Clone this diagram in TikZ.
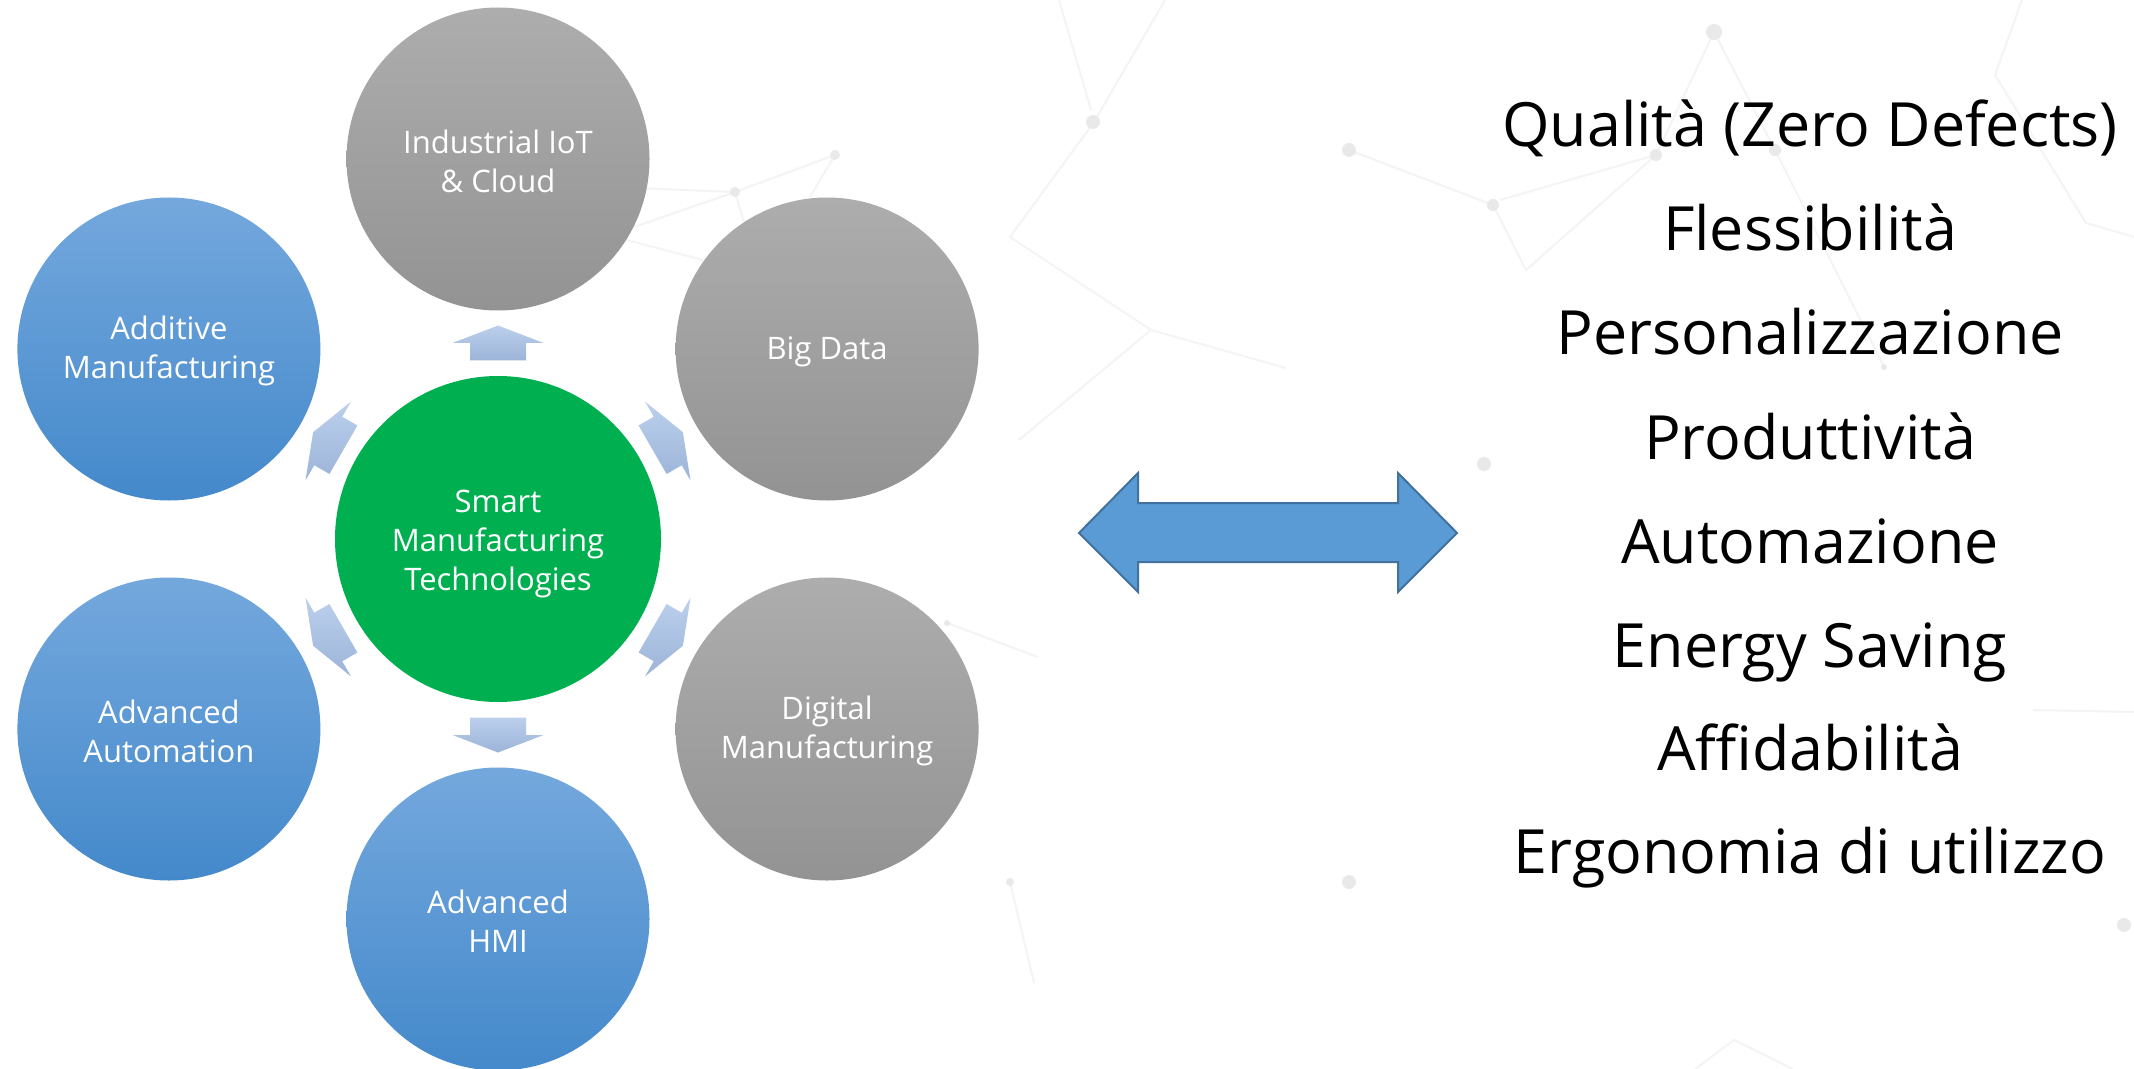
\documentclass[tikz,border=0pt]{standalone}
\usepackage{fontspec}
\setmainfont{Open Sans}
\usetikzlibrary{calc}

\definecolor{grayT}{RGB}{173,173,173}
\definecolor{grayB}{RGB}{147,147,147}
\definecolor{blueT}{RGB}{116,168,221}
\definecolor{blueB}{RGB}{68,137,203}
\definecolor{greenC}{RGB}{0,176,80}
\definecolor{arrT}{RGB}{188,208,237}
\definecolor{arrB}{RGB}{156,180,216}
\definecolor{dblFill}{RGB}{91,155,213}
\definecolor{dblLine}{RGB}{65,113,156}
\definecolor{bgLine}{RGB}{244,244,244}
\definecolor{bgDot}{RGB}{233,233,233}

\begin{document}
\begin{tikzpicture}[x=0.5pt,y=-0.5pt,
  bubble/.style={circle, inner sep=0pt, minimum size=151.5pt},
  bubbletext/.style={inner sep=0pt, text=white, align=center,
                 font=\fontsize{15.5}{19.5}\selectfont},
  graybubble/.style={bubble, top color=grayT, bottom color=grayB},
  bluebubble/.style={bubble, top color=blueT, bottom color=blueB},
  hubbubble/.style={bubble, minimum size=163pt, fill=greenC},
  smallarrow/.style={top color=arrT, bottom color=arrB},
  bigarrow/.style={fill=dblFill, draw=dblLine, line width=1pt, line join=miter},
  listtext/.style={anchor=base, inner sep=0pt, font=\fontsize{30.5}{36}\selectfont},
  bgline/.style={draw=bgLine, line width=1pt},
  bgdot/.style={fill=bgDot}
]
\useasboundingbox (0,0) rectangle (2134,1069);
\fill[white] (0,0) rectangle (2134,1069);

% faint background network
\draw[bgline] (1059,0) -- (1091,110);
\draw[bgline] (1165,0) -- (1094,122) -- (1010,237) -- (1151,330) -- (1286,368);
\draw[bgline] (1151,330) -- (1019,440);
\draw[bgline] (634,188) -- (735,192) -- (835,155) -- (810,197);
\draw[bgline] (735,192) -- (634,227);
\draw[bgline] (735,192) -- (744,222);
\draw[bgline] (600,233) -- (703,260);
\draw[bgline] (1349,150) -- (1493,205) -- (1526,270) -- (1656,155) -- (1714,32) -- (1775,150) -- (1884,367);
\draw[bgline] (1500,200) -- (1656,155);
\draw[bgline] (2022,0) -- (1995,75) -- (2086,223) -- (2134,237);
\draw[bgline] (947,623) -- (1038,657);
\draw[bgline] (1010,882) -- (1034,983);
\draw[bgline] (2033,710) -- (2134,712);
\draw[bgline] (1695,1069) -- (1734,1040) -- (1793,1069);
\foreach \p/\r in {{(1093,122)}/7,{(835,155)}/5,{(735,192)}/5,{(1349,150)}/7,{(1493,205)}/6,
                   {(1714,32)}/8,{(1656,155)}/6,{(1775,150)}/6,{(1349,882)}/7,{(1010,882)}/4,
                   {(2124,925)}/7,{(1884,367)}/3,{(1484,464)}/7,{(947,623)}/3}
  \fill[bgdot] \p circle[radius=\r];

% hub and satellites
\node[hubbubble] (C) at (498,539) {};
\node[graybubble] (iot) at ($(C)+(-90:380)$) {};
\node[graybubble] (bd)  at ($(C)+(-30:380)$) {};
\node[graybubble] (dm)  at ($(C)+(30:380)$)  {};
\node[bluebubble] (hmi) at ($(C)+(90:380)$)  {};
\node[bluebubble] (aa)  at ($(C)+(150:380)$) {};
\node[bluebubble] (am)  at ($(C)+(210:380)$) {};

\node[bubbletext] (Ct)   at ([yshift=-2.6pt]C)   {Smart\\Manufacturing\\Technologies};
\node[bubbletext] (iott) at ([yshift=-1pt]iot)   {Industrial IoT\\\& Cloud};
\node[bubbletext] (bdt)  at ([yshift=-1.4pt]bd)  {Big Data};
\node[bubbletext] (dmt)  at ([yshift=-1pt]dm)    {Digital\\Manufacturing};
\node[bubbletext] (hmit) at ([yshift=-1pt]hmi)   {Advanced\\HMI};
\node[bubbletext] (aat)  at ([yshift=-1pt]aa)    {Advanced\\Automation};
\node[bubbletext] (amt)  at ([yshift=-1pt]am)    {Additive\\Manufacturing};

% small outward arrows
\foreach \a in {-90,-30,30,90,150,210}{
  \path[smallarrow]
    ($(C)+(\a:178.5)+(\a+90:28)$) -- ($(C)+(\a:196)+(\a+90:28)$) --
    ($(C)+(\a:196)+(\a+90:45.5)$) -- ($(C)+(\a:213.5)$) --
    ($(C)+(\a:196)+(\a-90:45.5)$) -- ($(C)+(\a:196)+(\a-90:28)$) --
    ($(C)+(\a:178.5)+(\a-90:28)$) -- cycle;
}

% big double arrow
\path[bigarrow] (1079,533) -- (1138,473) -- (1138,503) -- (1398,503) -- (1398,473) --
  (1457,533) -- (1398,592) -- (1398,562) -- (1138,562) -- (1138,592) -- cycle;

% benefits list
\node[listtext] (l1) at (1810,147) {Qualità (Zero Defects)};
\node[listtext] (l2) at (1810,251) {Flessibilità};
\node[listtext] (l3) at (1810,355) {Personalizzazione};
\node[listtext] (l4) at (1810,459) {Produttività};
\node[listtext] (l5) at (1810,563) {Automazione};
\node[listtext] (l6) at (1810,667) {Energy Saving};
\node[listtext] (l7) at (1810,770) {Affidabilità};
\node[listtext] (l8) at (1810,873) {Ergonomia di utilizzo};
\end{tikzpicture}
\end{document}
